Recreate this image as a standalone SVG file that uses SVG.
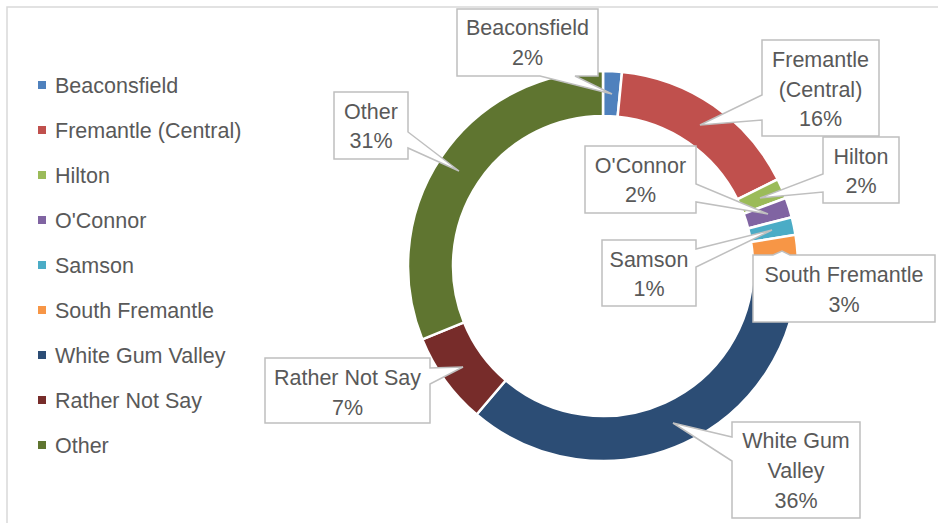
<svg xmlns="http://www.w3.org/2000/svg" width="938" height="523" viewBox="0 0 938 523">
<style>
text{font-family:"Liberation Sans",Arial,sans-serif;font-size:21.5px;fill:#595959}
.c{text-anchor:middle}
.s{stroke:#fff;stroke-width:2.5}
.co{fill:#fff;stroke:#BFBFBF;stroke-width:1.5;stroke-linejoin:miter}
</style>
<rect x="0" y="0" width="938" height="523" fill="#fff"/>
<path d="M7,523 V7 H938" fill="none" stroke="#D9D9D9" stroke-width="1.5"/>
<g id="legend">
<rect x="38" y="81" width="8" height="8" fill="#4F81BD"/><text x="55" y="93">Beaconsfield</text>
<rect x="38" y="126" width="8" height="8" fill="#C0504D"/><text x="55" y="138">Fremantle (Central)</text>
<rect x="38" y="171" width="8" height="8" fill="#9BBB59"/><text x="55" y="183">Hilton</text>
<rect x="38" y="216" width="8" height="8" fill="#8064A2"/><text x="55" y="228">O'Connor</text>
<rect x="38" y="261" width="8" height="8" fill="#4BACC6"/><text x="55" y="273">Samson</text>
<rect x="38" y="306" width="8" height="8" fill="#F79646"/><text x="55" y="318">South Fremantle</text>
<rect x="38" y="351" width="8" height="8" fill="#2C4D75"/><text x="55" y="363">White Gum Valley</text>
<rect x="38" y="396" width="8" height="8" fill="#772C2A"/><text x="55" y="408">Rather Not Say</text>
<rect x="38" y="441" width="8" height="8" fill="#5F7530"/><text x="55" y="453">Other</text>
</g>
<g id="ring">
<path id="s-beaconsfield" class="s" fill="#4F81BD" d="M603,71 A195,195 0 0 1 622.03,71.93 L617.64,116.72 A150,150 0 0 0 603,116 Z"/>
<path id="s-fremantle" class="s" fill="#C0504D" d="M622.03,71.93 A195,195 0 0 1 777.66,179.3 L737.36,199.3 A150,150 0 0 0 617.64,116.72 Z"/>
<path id="s-hilton" class="s" fill="#9BBB59" d="M777.66,179.3 A195,195 0 0 1 785.77,198.03 L743.59,213.71 A150,150 0 0 0 737.36,199.3 Z"/>
<path id="s-oconnor" class="s" fill="#8064A2" d="M785.77,198.03 A195,195 0 0 1 791.79,217.18 L748.22,228.44 A150,150 0 0 0 743.59,213.71 Z"/>
<path id="s-samson" class="s" fill="#4BACC6" d="M791.79,217.18 A195,195 0 0 1 795.49,234.82 L751.07,242.02 A150,150 0 0 0 748.22,228.44 Z"/>
<path id="s-southfremantle" class="s" fill="#F79646" d="M795.49,234.82 A195,195 0 0 1 797.99,268.04 L752.99,267.57 A150,150 0 0 0 751.07,242.02 Z"/>
<path id="s-wgv" class="s" fill="#2C4D75" d="M797.99,268.04 A195,195 0 0 1 476.62,414.5 L505.78,380.23 A150,150 0 0 0 752.99,267.57 Z"/>
<path id="s-rns" class="s" fill="#772C2A" d="M476.62,414.5 A195,195 0 0 1 422.33,339.36 L464.02,322.43 A150,150 0 0 0 505.78,380.23 Z"/>
<path id="s-other" class="s" fill="#5F7530" d="M422.33,339.36 A195,195 0 0 1 603,71 L603,116 A150,150 0 0 0 464.02,322.43 Z"/>
</g>
<g id="callouts">
<g id="lbl-beaconsfield"><path class="co" d="M457,9 H598 V76 H575 L612,94 L540,76 H457 Z"/><text class="c" x="527.5" y="35">Beaconsfield</text><text class="c" x="527.5" y="65">2%</text></g>
<g id="lbl-fremantle"><path class="co" d="M762,40 H879 V136 H762 V120 L700,125 L762,95 Z"/><text class="c" x="820.5" y="67">Fremantle</text><text class="c" x="820.5" y="97">(Central)</text><text class="c" x="820.5" y="126">16%</text></g>
<g id="lbl-hilton"><path class="co" d="M823,137 H899 V203 H823 V192 L760,198 L823,174 Z"/><text class="c" x="861" y="164">Hilton</text><text class="c" x="861" y="193">2%</text></g>
<g id="lbl-oconnor"><path class="co" d="M585,146 H696 V184 L768,214 L696,202 V213 H585 Z"/><text class="c" x="640.5" y="173">O'Connor</text><text class="c" x="640.5" y="202">2%</text></g>
<g id="lbl-samson"><path class="co" d="M602,240 H696 V249 L772,230 L696,267 V306 H602 Z"/><text class="c" x="649" y="267">Samson</text><text class="c" x="649" y="296">1%</text></g>
<g id="lbl-southfremantle"><path class="co" d="M753,255 H773 L782,251 L790,255 H935 V322 H753 Z"/><text class="c" x="844" y="282">South Fremantle</text><text class="c" x="844" y="312">3%</text></g>
<g id="lbl-wgv"><path class="co" d="M732,422 H860 V518 H732 V461 L673,423 L732,437 Z"/><text class="c" x="796" y="448">White Gum</text><text class="c" x="796" y="478">Valley</text><text class="c" x="796" y="508">36%</text></g>
<g id="lbl-rns"><path class="co" d="M265,358 H430 V368 L463,367 L430,384 V423 H265 Z"/><text class="c" x="347.5" y="385">Rather Not Say</text><text class="c" x="347.5" y="415">7%</text></g>
<g id="lbl-other"><path class="co" d="M334,92 H408 V132 L459,171 L408,148 V159 H334 Z"/><text class="c" x="371" y="119">Other</text><text class="c" x="371" y="148">31%</text></g>
</g>
</svg>
